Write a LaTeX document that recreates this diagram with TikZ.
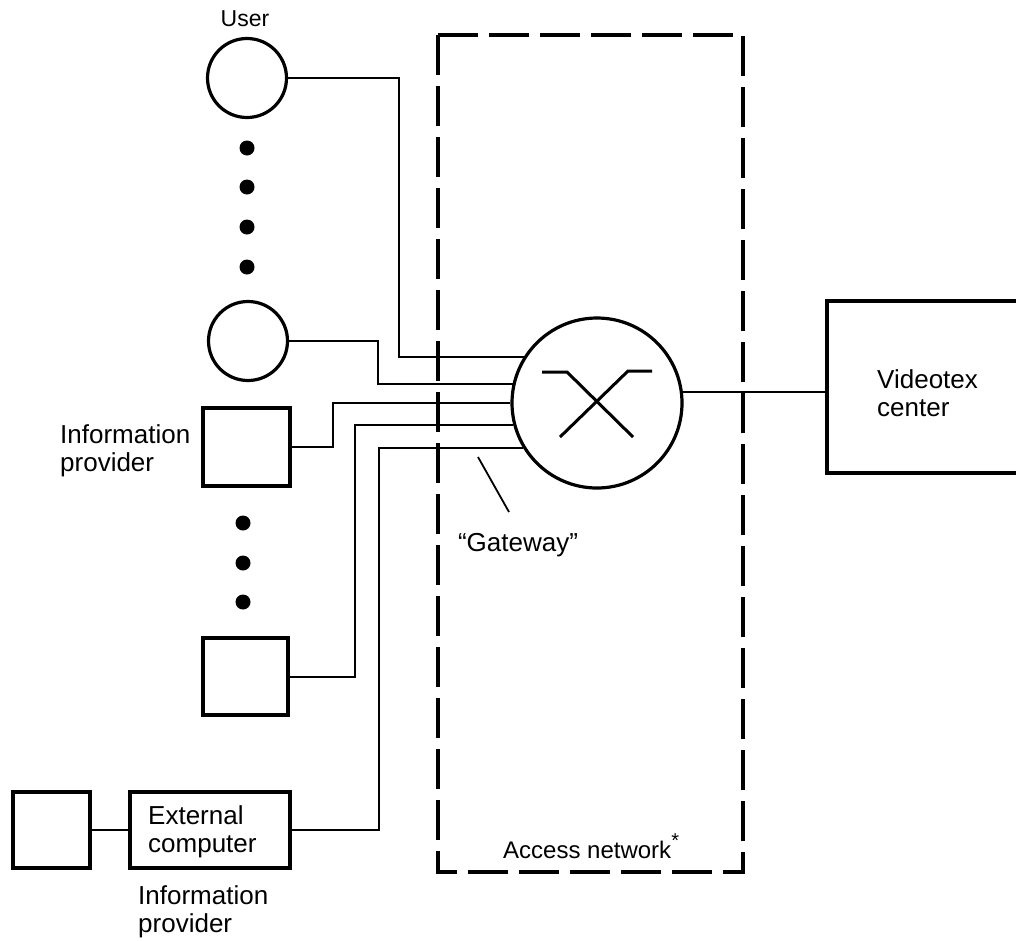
\documentclass[tikz,border=0pt]{standalone}
\usepackage{fontspec}
\setmainfont{Liberation Sans}
\usetikzlibrary{calc}
\begin{document}
\begin{tikzpicture}[x=1pt,y=-1pt,
  box/.style={draw,line width=3.2pt,rectangle,inner sep=0pt},
  term/.style={draw,line width=3.2pt,circle,inner sep=0pt,minimum size=79pt},
  wire/.style={line width=2pt},
  dot/.style={fill,circle,inner sep=0pt,minimum size=15pt},
  lbl/.style={font=\fontsize{26}{28}\selectfont,inner sep=0pt},
  netbox/.style={line width=3.5pt,dash pattern=on 40pt off 11pt}]
\useasboundingbox (0,0) rectangle (1016,940);
% access network
\draw[netbox] (438,35) rectangle (743,872);
\node[lbl,anchor=west] (acc) at (503,846) {\fontsize{24}{26}\selectfont Access network\raisebox{0.45em}{\fontsize{20}{20}\selectfont *}};
% users
\node[term] (user1) at (247,78) {};
\node[lbl] (userl) at (245,19) {\fontsize{23}{26}\selectfont User};
\foreach \yy in {148,187,227,267} \node[dot] at (247,\yy) {};
\node[term] (user2) at (248,341) {};
% information providers
\node[box,minimum width=87pt,minimum height=78pt] (ip1) at (246.5,447) {};
\node[lbl,align=left,anchor=west] (ipl) at (60,451) {Information\\provider};
\foreach \yy in {523,563,602} \node[dot] at (243,\yy) {};
\node[box,minimum width=85pt,minimum height=77pt] (ip2) at (245.5,676.5) {};
% external computer
\node[box,minimum width=77pt,minimum height=76pt] (ext0) at (51.5,830) {};
\node[box,minimum width=160pt,minimum height=76pt] (ext) at (210,830) {};
\node[lbl,align=left,anchor=west] (extl) at (148,832) {External\\computer};
\node[lbl,align=left,anchor=west] (ipl2) at (138,912) {Information\\provider};
% switch
\node[term,minimum size=170pt] (sw) at (597,403) {};
\draw[line width=3pt] (542,372) -- (567,372) -- (633,437);
\draw[line width=3pt] (652,371) -- (628,371) -- (560,437);
% videotex center
\node[box,minimum width=213pt,minimum height=172pt] (vc) at (933.5,387) {};
\node[lbl,align=left,anchor=west] (vcl) at (877,393) {Videotex\\center};
% connectors
\draw[wire] (user1.east) -- ++(111,0) |- (sw.148.8);
\draw[wire] (user2.east) -- ++(89,0) |- (sw.167);
\draw[wire] (ip1.east) -- ++(41,0) |- (sw.180.7);
\draw[wire] (ip2.east) -- ++(65,0) |- (sw.195.7);
\draw[wire] (ext.east) -- ++(87,0) |- (sw.211.2);
\draw[wire] (ext0.east) -- (ext.west |- ext0.east);
\draw[wire] (sw.7.5) -- (vc.west |- sw.7.5);
% gateway
\node[lbl] (gw) at (518,545) {“Gateway”};
\coordinate (gwp) at (478,457);
\coordinate (gwe) at (509,512);
\draw[line width=1.8pt] (gwp) -- (gwe);
\end{tikzpicture}
\end{document}
